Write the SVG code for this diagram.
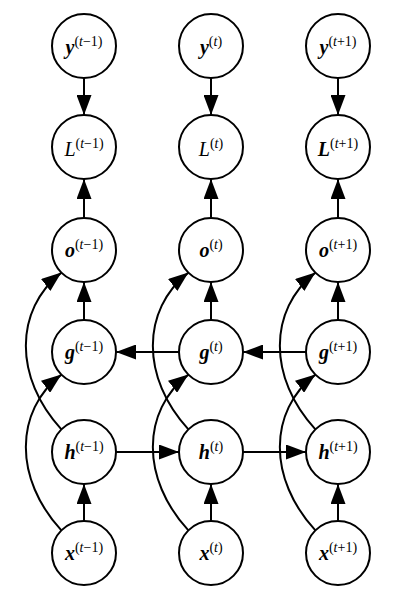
<svg xmlns="http://www.w3.org/2000/svg" width="414" height="606" viewBox="0 0 414 606">
<style>
.n{fill:#fff;stroke:#000;stroke-width:2}
.e{fill:none;stroke:#000;stroke-width:2}
text{font-family:"Liberation Serif","DejaVu Serif",serif;text-anchor:middle;fill:#000}
.v{font-weight:bold;font-style:italic;font-size:20px}
.l{font-style:italic;font-size:20px}
.lb{font-weight:bold;font-style:italic;font-size:20px}
.s{font-size:14px;font-style:normal;font-weight:normal}
.i{font-style:italic}
</style>
<defs>
<marker id="a" viewBox="0 0 20 15" refX="20" refY="7.5" markerWidth="20" markerHeight="15" markerUnits="userSpaceOnUse" orient="auto">
<path d="M0,0 L20,7.5 L0,15 Z" fill="#000"/>
</marker>
</defs>
<g id="connectors">
<line class="e" x1="84" y1="78" x2="84" y2="115" marker-end="url(#a)"/>
<line class="e" x1="211" y1="78" x2="211" y2="115" marker-end="url(#a)"/>
<line class="e" x1="338" y1="78" x2="338" y2="115" marker-end="url(#a)"/>
<line class="e" x1="84" y1="218" x2="84" y2="179" marker-end="url(#a)"/>
<line class="e" x1="211" y1="218" x2="211" y2="179" marker-end="url(#a)"/>
<line class="e" x1="338" y1="218" x2="338" y2="179" marker-end="url(#a)"/>
<line class="e" x1="84" y1="320" x2="84" y2="282" marker-end="url(#a)"/>
<line class="e" x1="211" y1="320" x2="211" y2="282" marker-end="url(#a)"/>
<line class="e" x1="338" y1="320" x2="338" y2="282" marker-end="url(#a)"/>
<line class="e" x1="84" y1="521" x2="84" y2="484" marker-end="url(#a)"/>
<line class="e" x1="211" y1="521" x2="211" y2="484" marker-end="url(#a)"/>
<line class="e" x1="338" y1="521" x2="338" y2="484" marker-end="url(#a)"/>
<line class="e" x1="116" y1="452" x2="179" y2="452" marker-end="url(#a)"/>
<line class="e" x1="243" y1="452" x2="306" y2="452" marker-end="url(#a)"/>
<line class="e" x1="179" y1="352" x2="116" y2="352" marker-end="url(#a)"/>
<line class="e" x1="306" y1="352" x2="243" y2="352" marker-end="url(#a)"/>
<path class="e" d="M61.4,429.4 C14,378 14,310 61.4,272.6" marker-end="url(#a)"/>
<path class="e" d="M188.4,429.4 C141,378 141,310 188.4,272.6" marker-end="url(#a)"/>
<path class="e" d="M315.4,429.4 C268,378 268,310 315.4,272.6" marker-end="url(#a)"/>
<path class="e" d="M61.4,530.4 C14,479 14,411 61.4,374.6" marker-end="url(#a)"/>
<path class="e" d="M188.4,530.4 C141,479 141,411 188.4,374.6" marker-end="url(#a)"/>
<path class="e" d="M315.4,530.4 C268,479 268,411 315.4,374.6" marker-end="url(#a)"/>
</g>
<g id="y1"><circle class="n" cx="84" cy="46" r="32"/><text x="84" y="54"><tspan class="v">y</tspan><tspan class="s" dy="-8">(<tspan class="i">t</tspan>−1)</tspan></text></g>
<g id="y2"><circle class="n" cx="211" cy="46" r="32"/><text x="211" y="54"><tspan class="v">y</tspan><tspan class="s" dy="-8">(<tspan class="i">t</tspan>)</tspan></text></g>
<g id="y3"><circle class="n" cx="338" cy="46" r="32"/><text x="338" y="54"><tspan class="v">y</tspan><tspan class="s" dy="-8">(<tspan class="i">t</tspan>+1)</tspan></text></g>
<g id="L1"><circle class="n" cx="84" cy="147" r="32"/><text x="84" y="156"><tspan class="l">L</tspan><tspan class="s" dy="-8">(<tspan class="i">t</tspan>−1)</tspan></text></g>
<g id="L2"><circle class="n" cx="211" cy="147" r="32"/><text x="211" y="156"><tspan class="l">L</tspan><tspan class="s" dy="-8">(<tspan class="i">t</tspan>)</tspan></text></g>
<g id="L3"><circle class="n" cx="338" cy="147" r="32"/><text x="338" y="156"><tspan class="lb">L</tspan><tspan class="s" dy="-8">(<tspan class="i">t</tspan>+1)</tspan></text></g>
<g id="o1"><circle class="n" cx="84" cy="250" r="32"/><text x="84" y="257"><tspan class="v">o</tspan><tspan class="s" dy="-8">(<tspan class="i">t</tspan>−1)</tspan></text></g>
<g id="o2"><circle class="n" cx="211" cy="250" r="32"/><text x="211" y="257"><tspan class="v">o</tspan><tspan class="s" dy="-8">(<tspan class="i">t</tspan>)</tspan></text></g>
<g id="o3"><circle class="n" cx="338" cy="250" r="32"/><text x="338" y="257"><tspan class="v">o</tspan><tspan class="s" dy="-8">(<tspan class="i">t</tspan>+1)</tspan></text></g>
<g id="g1"><circle class="n" cx="84" cy="352" r="32"/><text x="84" y="359"><tspan class="v">g</tspan><tspan class="s" dy="-8">(<tspan class="i">t</tspan>−1)</tspan></text></g>
<g id="g2"><circle class="n" cx="211" cy="352" r="32"/><text x="211" y="359"><tspan class="v">g</tspan><tspan class="s" dy="-8">(<tspan class="i">t</tspan>)</tspan></text></g>
<g id="g3"><circle class="n" cx="338" cy="352" r="32"/><text x="338" y="359"><tspan class="v">g</tspan><tspan class="s" dy="-8">(<tspan class="i">t</tspan>+1)</tspan></text></g>
<g id="h1"><circle class="n" cx="84" cy="452" r="32"/><text x="84" y="459"><tspan class="v">h</tspan><tspan class="s" dy="-8">(<tspan class="i">t</tspan>−1)</tspan></text></g>
<g id="h2"><circle class="n" cx="211" cy="452" r="32"/><text x="211" y="459"><tspan class="v">h</tspan><tspan class="s" dy="-8">(<tspan class="i">t</tspan>)</tspan></text></g>
<g id="h3"><circle class="n" cx="338" cy="452" r="32"/><text x="338" y="459"><tspan class="v">h</tspan><tspan class="s" dy="-8">(<tspan class="i">t</tspan>+1)</tspan></text></g>
<g id="x1"><circle class="n" cx="84" cy="553" r="32"/><text x="84" y="560"><tspan class="v">x</tspan><tspan class="s" dy="-8">(<tspan class="i">t</tspan>−1)</tspan></text></g>
<g id="x2"><circle class="n" cx="211" cy="553" r="32"/><text x="211" y="560"><tspan class="v">x</tspan><tspan class="s" dy="-8">(<tspan class="i">t</tspan>)</tspan></text></g>
<g id="x3"><circle class="n" cx="338" cy="553" r="32"/><text x="338" y="560"><tspan class="v">x</tspan><tspan class="s" dy="-8">(<tspan class="i">t</tspan>+1)</tspan></text></g>
</svg>
